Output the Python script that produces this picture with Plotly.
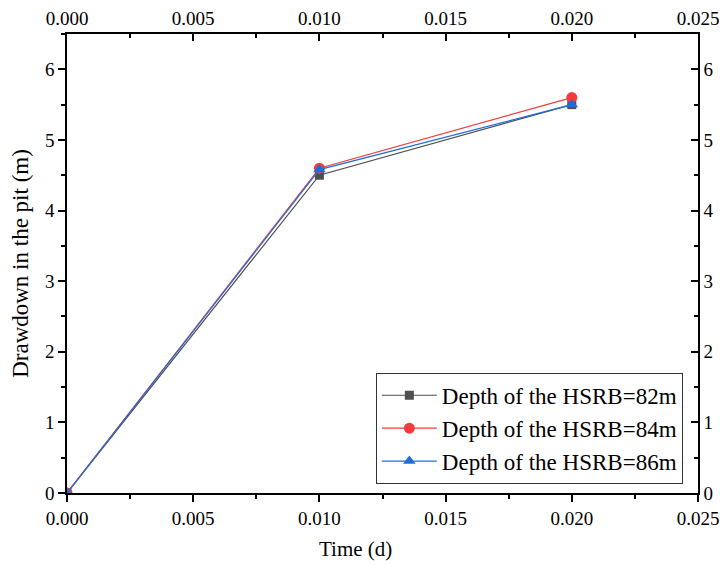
import plotly.graph_objects as go

# Time (d) and drawdown in the pit (m) for three HSRB depths
time_d = [0.0, 0.01, 0.02]
drawdown_82 = [0.0, 4.50, 5.50]
drawdown_84 = [0.0, 4.60, 5.60]
drawdown_86 = [0.0, 4.58, 5.50]

series_names = [
    "Depth of the HSRB=82m",
    "Depth of the HSRB=84m",
    "Depth of the HSRB=86m",
]
series_values = [drawdown_82, drawdown_84, drawdown_86]
series_colors = ["#4f4f4f", "#f23c3c", "#1f6ed8"]
series_symbols = ["square", "circle", "triangle-up"]
series_sizes = [9, 11, 11]

x_range = [0, 0.025]
y_range = [0, 6.5]

FONT = "Liberation Serif"

fig = go.Figure()
for name, vals, col, sym, sz in zip(series_names, series_values, series_colors,
                                    series_symbols, series_sizes):
    fig.add_trace(go.Scatter(
        x=time_d, y=vals, name=name, mode="lines+markers",
        line=dict(color=col, width=1.2),
        marker=dict(symbol=sym, size=sz, color=col),
    ))

# invisible trace that carries the mirrored top/right axes
fig.add_trace(go.Scatter(x=x_range, y=y_range, xaxis="x2", yaxis="y2",
                         mode="markers", marker=dict(opacity=0),
                         showlegend=False, hoverinfo="skip"))

tick_font = dict(family=FONT, size=19, color="black")
common = dict(showgrid=False, zeroline=False, showline=True, linecolor="black",
              linewidth=1.5, tickcolor="black", tickwidth=1.5, ticklen=7,
              tickfont=tick_font, automargin=False)

fig.update_layout(
    width=726, height=569,
    margin=dict(l=67, r=28, t=34, b=76),
    paper_bgcolor="white", plot_bgcolor="white",
    font=dict(family=FONT, color="black"),
    xaxis=dict(range=x_range, dtick=0.005, tickformat=".3f", ticks="outside",
               minor=dict(dtick=0.0025, ticks="outside", ticklen=4,
                          tickcolor="black", tickwidth=1.5),
               **common),
    yaxis=dict(range=y_range, dtick=1, ticks="outside",
               minor=dict(dtick=0.5, ticks="outside", ticklen=4,
                          tickcolor="black", tickwidth=1.5),
               title=dict(text="Drawdown in the pit (m)",
                          font=dict(family=FONT, size=23), standoff=10),
               **common),
    xaxis2=dict(range=x_range, dtick=0.005, tickformat=".3f", ticks="inside",
                overlaying="x", side="top",
                minor=dict(dtick=0.0025, ticks="inside", ticklen=4,
                           tickcolor="black", tickwidth=1.5),
                **common),
    yaxis2=dict(range=y_range, dtick=1, ticks="inside",
                overlaying="y", side="right",
                minor=dict(dtick=0.5, ticks="inside", ticklen=4,
                           tickcolor="black", tickwidth=1.5),
                **common),
    legend=dict(x=0.976, y=0.02, xanchor="right", yanchor="bottom",
                bgcolor="white", bordercolor="#333333", borderwidth=1,
                font=dict(family=FONT, size=23, color="black"),
                tracegroupgap=0, itemwidth=55),
    annotations=[dict(text="Time (d)", xref="paper", yref="paper",
                      x=0.458, y=-0.122, xanchor="center", yanchor="middle",
                      showarrow=False, font=dict(family=FONT, size=21))],
    showlegend=True,
)

fig.write_html("out.html")
